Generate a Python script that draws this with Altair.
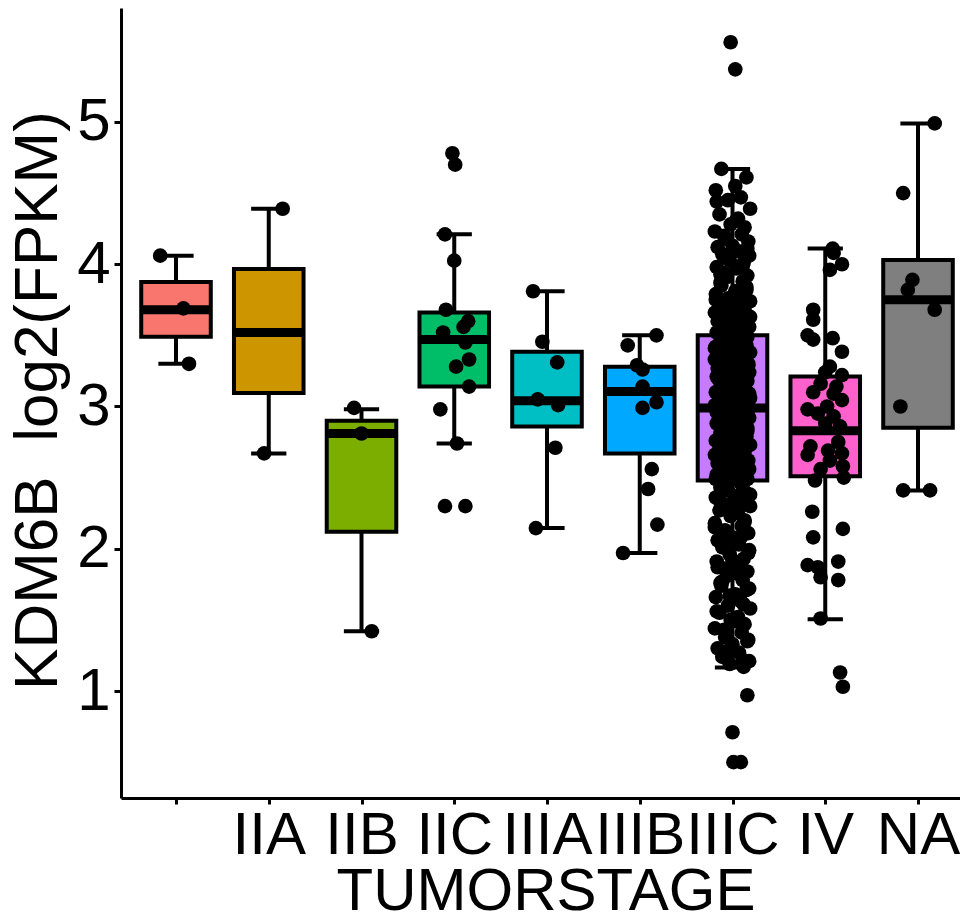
import json
import altair as alt
import pandas as pd

# ---------------- data ----------------
STAGES = ["", "IIA", "IIB", "IIC", "IIIA", "IIIB", "IIIC", "IV", "NA"]
COLORS = ["#F8766D", "#CD9600", "#7CAE00", "#00BE67", "#00BFC4",
          "#00A9FF", "#C77CFF", "#FF61CC", "#7F7F7F"]

WHISKER_LO = [3.30, 2.67, 1.42, 2.74, 2.145, 1.97, 1.165, 1.505, 2.41]
Q1 = [3.49, 3.095, 2.12, 3.14, 2.86, 2.67, 2.48, 2.51, 2.85]
MEDIAN = [3.68, 3.52, 2.81, 3.47, 3.04, 3.105, 2.99, 2.83, 3.75]
Q3 = [3.875, 3.967, 2.90, 3.66, 3.385, 3.28, 3.50, 3.21, 4.03]
WHISKER_HI = [4.06, 4.39, 2.98, 4.21, 3.81, 3.50, 4.67, 4.11, 4.99]

PTS_S1 = [4.06, 3.69, 3.30]
JIT_S1 = [-0.17, 0.08, 0.14]

PTS_IIA = [4.39, 2.67]
JIT_IIA = [0.15, -0.05]

PTS_IIB = [2.99, 2.81, 1.42]
JIT_IIB = [-0.08, 0.00, 0.11]

PTS_IIC = [4.78, 4.70, 4.21, 4.025, 3.68, 3.60, 3.56, 3.52, 3.45, 3.33,
           3.28, 3.14, 2.98, 2.74, 2.30, 2.30]
JIT_IIC = [-0.02, 0.01, -0.10, 0.00, -0.09, 0.15, 0.10, -0.12, 0.12, 0.16,
           0.02, 0.16, -0.15, 0.03, -0.10, 0.12]

PTS_IIIA = [3.81, 3.455, 3.31, 3.05, 3.01, 2.71, 2.145]
JIT_IIIA = [-0.15, -0.05, 0.11, -0.10, 0.12, 0.09, -0.12]

PTS_IIIB = [3.50, 3.43, 3.29, 3.26, 3.14, 3.03, 2.99, 2.56, 2.42, 2.17, 1.97]
JIT_IIIB = [0.18, -0.13, -0.03, 0.03, 0.03, 0.18, 0.03, 0.13, 0.09, 0.19, -0.18]

PTS_IIIC_OUT = [5.56, 5.37, 0.97, 0.71, 0.50, 0.50]
JIT_IIIC_OUT = [-0.02, 0.03, 0.16, 0.00, 0.01, 0.09]
PTS_IIIC = [
    4.67, 4.61, 4.55, 4.52, 4.47, 4.45, 4.39, 4.35, 4.32, 4.28, 4.26, 4.23,
    4.21, 4.18, 4.16, 4.13, 4.12, 4.09, 4.07, 4.06, 4.03, 4.01, 3.98, 3.97,
    3.94, 3.92, 3.91, 3.88, 3.87, 3.85, 3.82, 3.81, 3.79, 3.77, 3.76, 3.74,
    3.73, 3.71, 3.70, 3.68, 3.66, 3.65, 3.64, 3.62, 3.61, 3.60, 3.58, 3.57,
    3.56, 3.55, 3.53, 3.52, 3.51,
    3.50, 3.49, 3.47, 3.47, 3.46, 3.44, 3.43, 3.43, 3.42, 3.40, 3.39, 3.38,
    3.38, 3.36, 3.35, 3.34, 3.33, 3.31, 3.31, 3.30, 3.28, 3.27, 3.27, 3.25,
    3.24, 3.23, 3.22, 3.21, 3.19, 3.18, 3.18, 3.16, 3.15, 3.14, 3.13, 3.11,
    3.10, 3.10, 3.08, 3.07, 3.06, 3.05, 3.04, 3.03, 3.02, 3.01, 3.00,
    2.99, 2.98, 2.97, 2.95, 2.94, 2.94, 2.92, 2.91, 2.90, 2.88, 2.87, 2.86,
    2.85, 2.84, 2.82, 2.81, 2.80, 2.79, 2.78, 2.76, 2.75, 2.74, 2.73, 2.71,
    2.70, 2.69, 2.68, 2.66, 2.65, 2.64, 2.62, 2.61, 2.60, 2.59, 2.57, 2.56,
    2.55, 2.54, 2.52, 2.51, 2.50, 2.49,
    2.47, 2.45, 2.43, 2.42, 2.39, 2.37, 2.36, 2.33, 2.31, 2.30, 2.27, 2.25,
    2.23, 2.20, 2.18, 2.16, 2.13, 2.11, 2.08, 2.06, 2.03, 2.01, 1.99, 1.96,
    1.93, 1.91, 1.88, 1.86, 1.84, 1.81, 1.78, 1.76, 1.74, 1.71, 1.68, 1.66,
    1.63, 1.60, 1.58, 1.55, 1.52, 1.50, 1.47, 1.44, 1.41, 1.38, 1.36, 1.33,
    1.30, 1.27, 1.24, 1.21, 1.19, 1.17,
    4.44, 4.31, 4.20, 4.11, 4.04, 3.99, 3.93, 3.89, 3.84, 3.80, 3.75, 3.72,
    3.69, 3.63, 3.59, 3.54, 3.48, 3.45, 3.41, 3.37, 3.32, 3.29, 3.26, 3.20,
    3.17, 3.12, 3.09, 3.04, 3.01, 2.96, 2.93, 2.89, 2.83, 2.77, 2.72, 2.67,
    2.63, 2.58, 2.53, 2.49, 2.46, 2.41, 2.38, 2.34, 2.28, 2.24, 2.19, 2.15,
    2.09, 2.04, 1.97, 1.92, 1.87, 1.82, 1.77, 1.72, 1.67, 1.61, 1.56, 1.49,
    1.43, 1.35, 1.28, 1.22,
]
JITTER_CYCLE = [-0.12, 0.15, 0.03, -0.18, 0.09, -0.05, 0.19, -0.14, 0.06,
                -0.02, 0.13, -0.19, 0.10, -0.08, 0.17, 0.00, -0.16, 0.07,
                -0.11, 0.18, -0.03, 0.12, -0.17, 0.04, -0.09, 0.16, -0.06,
                0.11, -0.13]

PTS_IV = [4.11, 4.08, 4.00, 3.96, 3.68, 3.61, 3.50, 3.47, 3.48, 3.385,
          3.28, 3.24, 3.22, 3.16, 3.14, 3.10, 3.09, 3.045, 2.98, 3.00, 2.95,
          2.93, 2.88, 2.86, 2.75, 2.72, 2.66, 2.69, 2.67, 2.58, 2.62, 2.56,
          2.50, 2.48, 2.26, 2.14, 2.08, 1.885, 1.87, 1.91, 1.80, 1.78, 1.51,
          1.13, 1.03]
JIT_IV = [0.08, 0.09, 0.18, 0.05, -0.13, -0.13, -0.19, -0.13, 0.08, 0.18,
          0.05, 0.00, 0.18, -0.05, 0.12, -0.13, 0.09, 0.18, -0.19, 0.02, -0.08,
          0.09, 0.00, 0.16, 0.14, -0.16, -0.19, 0.03, 0.18, 0.19, 0.05, -0.05,
          0.20, -0.11, -0.14, 0.19, -0.13, -0.19, -0.08, 0.14, -0.05, 0.14, -0.05,
          0.16, 0.19]

PTS_NA = [4.99, 4.50, 3.89, 3.82, 3.68, 3.00, 2.41, 2.41]
JIT_NA = [0.18, -0.16, -0.06, -0.11, 0.18, -0.19, -0.16, 0.13]

# ---------------- tables ----------------
box_df = pd.DataFrame({
    "stage": STAGES, "idx": list(range(1, len(STAGES) + 1)), "color": COLORS,
    "lo": WHISKER_LO, "q1": Q1, "med": MEDIAN, "q3": Q3, "hi": WHISKER_HI,
})

iiic_jit = JIT_IIIC_OUT + [JITTER_CYCLE[i % len(JITTER_CYCLE)] for i in range(len(PTS_IIIC))]
groups = [
    (PTS_S1, JIT_S1), (PTS_IIA, JIT_IIA), (PTS_IIB, JIT_IIB), (PTS_IIC, JIT_IIC),
    (PTS_IIIA, JIT_IIIA), (PTS_IIIB, JIT_IIIB), (PTS_IIIC_OUT + PTS_IIIC, iiic_jit),
    (PTS_IV, JIT_IV), (PTS_NA, JIT_NA),
]
rows = []
for i, (vals, jits) in enumerate(groups):
    for v, j in zip(vals, jits):
        rows.append({"stage": STAGES[i], "value": v, "xj": i + 1 + j})
pts_df = pd.DataFrame(rows)

# ---------------- scales / axes ----------------
FONT = "Liberation Sans"
x_scale = alt.Scale(domain=[0.407, 9.4528], nice=False, zero=False)
y_scale = alt.Scale(domain=[0.248, 5.801], nice=False, zero=False)

label_expr = json.dumps(STAGES) + "[datum.value - 1]"
x_axis = alt.Axis(
    values=list(range(1, len(STAGES) + 1)), labelExpr=label_expr, title="TUMORSTAGE",
    grid=False, domainColor="black", domainWidth=3, tickColor="black", tickWidth=3,
    tickSize=6, labelFont=FONT, labelFontSize=60, labelColor="black", labelPadding=2,
    labelOverlap=False, labelFlush=False,
    titleFont=FONT, titleFontSize=60, titleFontWeight="normal", titleColor="black",
    titleX=424.5, titleY=64.6, titleBaseline="top", titleAlign="center",
)
y_axis = alt.Axis(
    values=[1, 2, 3, 4, 5], format="d", title="KDM6B\u00a0 log2(FPKM)",
    grid=False, domainColor="black", domainWidth=3, tickColor="black", tickWidth=3,
    tickSize=7, labelFont=FONT, labelFontSize=60, labelColor="black", labelPadding=4,
    titleFont=FONT, titleFontSize=62, titleFontWeight="normal", titleColor="black",
    titleAngle=270, titleX=-114, titleY=392, titleBaseline="top", titleAlign="center",
)

LW = 4
base = alt.Chart(box_df)

caps = base.transform_fold(["lo", "hi"], as_=["which", "yv"]).transform_calculate(
    xa="datum.idx - 0.19", xb="datum.idx + 0.19"
).mark_rule(color="black", strokeWidth=LW).encode(
    x=alt.X("xa:Q", scale=x_scale, axis=x_axis), x2="xb:Q",
    y=alt.Y("yv:Q", scale=y_scale, axis=y_axis),
)

whisk_lo = base.mark_rule(color="black", strokeWidth=LW).encode(
    x=alt.X("idx:Q", scale=x_scale, axis=x_axis),
    y=alt.Y("lo:Q", scale=y_scale, axis=y_axis), y2="q1:Q",
)
whisk_hi = base.mark_rule(color="black", strokeWidth=LW).encode(
    x=alt.X("idx:Q", scale=x_scale, axis=x_axis),
    y=alt.Y("q3:Q", scale=y_scale, axis=y_axis), y2="hi:Q",
)

boxes = base.transform_calculate(
    xa="datum.idx - 0.375", xb="datum.idx + 0.375"
).mark_rect(stroke="black", strokeWidth=LW).encode(
    x=alt.X("xa:Q", scale=x_scale, axis=x_axis), x2="xb:Q",
    y=alt.Y("q1:Q", scale=y_scale, axis=y_axis), y2="q3:Q",
    fill=alt.Fill("color:N", scale=None),
)

medians = base.transform_calculate(
    xa="datum.idx - 0.375", xb="datum.idx + 0.375"
).mark_rule(color="black", strokeWidth=9).encode(
    x=alt.X("xa:Q", scale=x_scale, axis=x_axis), x2="xb:Q",
    y=alt.Y("med:Q", scale=y_scale, axis=y_axis),
)

points = alt.Chart(pts_df).mark_circle(size=215, color="black", opacity=1).encode(
    x=alt.X("xj:Q", scale=x_scale, axis=x_axis),
    y=alt.Y("value:Q", scale=y_scale, axis=y_axis),
)

chart = alt.layer(caps, whisk_lo, whisk_hi, boxes, medians, points).properties(
    width=839, height=790,
    padding={"left": 113, "top": 0, "right": 0, "bottom": 113},
    autosize=alt.AutoSizeParams(type="none"),
    background="white",
).configure_view(stroke=None)

chart.save("out.html", embed_options={"renderer": "svg", "actions": False})
